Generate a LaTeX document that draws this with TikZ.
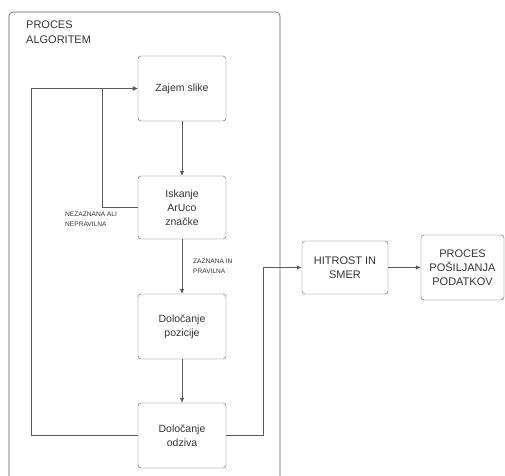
\documentclass[tikz,border=0pt]{standalone}
\usepackage{fontspec}
\setmainfont{Liberation Sans}
\usetikzlibrary{arrows.meta}

\definecolor{crta}{HTML}{5A5A5A}
\definecolor{besedilo}{HTML}{333333}

\tikzset{
    korak/.style={draw=crta, rounded corners=3pt, align=center, text=besedilo,
        font=\fontsize{10.5}{14}\selectfont, inner sep=0pt},
    oznaka/.style={align=left, anchor=west, text=besedilo, inner sep=0pt,
        font=\fontsize{6.6}{10}\selectfont},
    puscica/.style={draw=crta, line width=0.6pt, -{Latex[length=5pt,width=4.5pt]}},
    crta/.style={draw=crta, line width=0.6pt}
}

\begin{document}
\begin{tikzpicture}[x=1pt, y=-1pt]
    \useasboundingbox (0,0) rectangle (505,475);
    % okvir algoritma
    \draw[crta, rounded corners=4pt] (9,12) rectangle (280,490);
    \node[oznaka, font=\fontsize{11}{15}\selectfont] (naslov) at (26,32.5) {PROCES\\ALGORITEM};

    \node[korak, minimum width=88pt, minimum height=65pt] (zajem) at (182,88.5) {Zajem slike};
    \node[korak, minimum width=88pt, minimum height=63pt] (iskanje) at (182,207.5) {Iskanje\\ArUco\\značke};
    \node[korak, minimum width=88pt, minimum height=65pt] (pozicija) at (182,326.5) {Določanje\\pozicije};
    \node[korak, minimum width=88pt, minimum height=65pt] (odziv) at (182,435.5) {Določanje\\odziva};
    \node[korak, minimum width=86pt, minimum height=53pt, font=\fontsize{11}{14}\selectfont] (hitrost) at (345,267.5) {HITROST IN\\SMER};
    \node[korak, minimum width=83pt, minimum height=65pt, font=\fontsize{11}{14}\selectfont] (posiljanje) at (462.5,267.5) {PROCES\\POŠILJANJA\\PODATKOV};

    \draw[puscica] (zajem) -- (iskanje);
    \draw[puscica] (iskanje) -- (pozicija);
    \draw[puscica] (pozicija) -- (odziv);
    \draw[puscica] (hitrost) -- (posiljanje);

    % povratne zanke
    \draw[puscica] (iskanje.west) -- ++(-36,0) |- (zajem.west);
    \draw[puscica] (odziv.west) -- ++(-107,0) |- (zajem.west);
    \draw[puscica] (odziv.east) -- ++(37,0) |- (hitrost.west);

    \node[oznaka] (ne) at (65,219) {NEZAZNANA ALI\\NEPRAVILNA};
    \node[oznaka] (da) at (193,266.5) {ZAZNANA IN\\PRAVILNA};
\end{tikzpicture}
\end{document}
